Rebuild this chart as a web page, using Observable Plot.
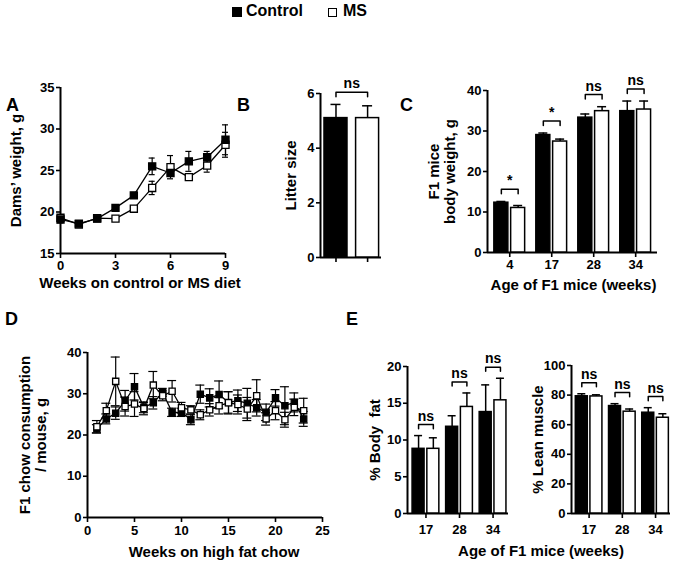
<!DOCTYPE html>
<html>
<head>
<meta charset="utf-8">
<script src="https://cdn.jsdelivr.net/npm/d3@7"></script>
<script src="https://cdn.jsdelivr.net/npm/@observablehq/plot@0.6"></script>
<style>
  html, body { margin: 0; padding: 0; background: #fff; }
  #fig { position: relative; width: 676px; height: 565px; overflow: hidden;
         font-family: "Liberation Sans", Arial, Helvetica, sans-serif; font-weight: bold; color: #000; }
  #fig svg { position: absolute; left: 0; top: 0; }
  .letter { position: absolute; font-size: 18px; line-height: 18px; font-weight: bold; }
  .leg { position: absolute; font-size: 16px; line-height: 16px; font-weight: bold; }
  .sw { position: absolute; box-sizing: border-box; border: 1.5px solid #000; }
</style>
</head>
<body>
<div id="fig">
  <div class="sw" style="left:232px;top:7px;width:10px;height:10px;background:#000;"></div>
  <div class="leg" style="left:246px;top:3px;">Control</div>
  <div class="sw" style="left:328px;top:8px;width:9px;height:9px;background:#fff;"></div>
  <div class="leg" style="left:343px;top:3px;">MS</div>
  <div class="letter" style="left:6px;top:96px;">A</div>
  <div class="letter" style="left:237px;top:96px;">B</div>
  <div class="letter" style="left:400px;top:96px;">C</div>
  <div class="letter" style="left:5px;top:310px;">D</div>
  <div class="letter" style="left:346px;top:310px;">E</div>
</div>
<script>
// ---------------- data ----------------
const seriesNames = ["Control", "MS"];

// A: dams' weight
const weeksA = [0, 1, 2, 3, 4, 5, 6, 7, 8, 9];
const damsControl    = [19.1, 18.6, 19.2, 20.5, 22.0, 25.5, 24.7, 26.1, 26.6, 28.7];
const damsControlSem = [0.4, 0.2, 0.2, 0.3, 0.2, 1.0, 0.4, 1.2, 0.7, 1.8];
const damsMS         = [19.3, 18.5, 19.25, 19.2, 20.4, 22.9, 25.4, 24.2, 25.6, 28.1];
const damsMSSem      = [0.3, 0.2, 0.3, 0.2, 0.2, 0.8, 1.4, 0.3, 0.8, 1.5];

// B: litter size
const litterGroups = ["Control", "MS"];
const litterMean = [5.1, 5.1];
const litterSem  = [0.5, 0.45];
const litterSig  = "ns";

// C: F1 body weight
const agesC = ["4", "17", "28", "34"];
const bwControl    = [12.3, 29.0, 33.3, 34.9];
const bwControlSem = [0.3, 0.5, 0.9, 2.5];
const bwMS         = [11.0, 27.4, 34.9, 35.3];
const bwMSSem      = [0.6, 0.6, 1.1, 2.1];
const bwSig        = ["*", "*", "ns", "ns"];

// D: chow consumption
const weeksD = [1, 2, 3, 4, 5, 6, 7, 8, 9, 10, 11, 12, 13, 14, 15, 16, 17, 18, 19, 20, 21, 22, 23];
const chowControl    = [21.5, 23.9, 25.3, 28.3, 31.7, 26.7, 27.8, 30.3, 25.5, 25.5, 23.7, 29.9, 29.0, 29.8, 27.9, 28.3, 27.7, 26.6, 25.5, 29.0, 27.1, 27.9, 23.9];
const chowControlSem = [1.0, 1.2, 1.5, 2.5, 3.2, 1.3, 1.5, 1.0, 1.0, 1.0, 1.2, 2.2, 2.2, 3.3, 2.6, 2.6, 3.6, 2.0, 2.0, 2.0, 4.6, 2.3, 1.8];
const chowMS         = [22.0, 25.9, 33.0, 26.9, 27.5, 26.4, 32.1, 29.5, 30.6, 26.6, 26.1, 24.9, 26.1, 27.1, 27.8, 27.4, 26.3, 29.5, 23.9, 25.9, 23.7, 26.7, 25.9];
const chowMSSem      = [1.5, 1.8, 5.9, 2.3, 3.0, 1.5, 3.3, 1.2, 2.6, 1.3, 1.0, 1.2, 1.5, 2.0, 2.7, 2.3, 2.8, 3.9, 1.5, 2.2, 1.8, 2.0, 3.0];

// E: body composition
const agesE = ["17", "28", "34"];
const fatControl    = [8.8, 11.8, 13.8];
const fatControlSem = [1.8, 1.5, 3.7];
const fatMS         = [8.8, 14.5, 15.4];
const fatMSSem      = [1.5, 1.9, 3.0];
const fatSig        = ["ns", "ns", "ns"];
const leanControl    = [79.2, 72.6, 68.1];
const leanControlSem = [1.7, 1.6, 3.4];
const leanMS         = [79.1, 68.8, 64.7];
const leanMSSem      = [1.1, 1.8, 2.7];
const leanSig        = ["ns", "ns", "ns"];

// ---------------- helpers ----------------
const W = 676, H = 565;
const FONT = "'Liberation Sans', Arial, Helvetica, sans-serif";
const fig = document.getElementById("fig");
const intFmt = d3.format("d");

function mount(frame, xDomain, yDomain, marks) {
  const [L, T, R, B] = frame;
  const svg = Plot.plot({
    width: W, height: H,
    marginLeft: L, marginTop: T, marginRight: W - R, marginBottom: H - B,
    x: {type: "linear", domain: xDomain},
    y: {type: "linear", domain: yDomain},
    style: {fontFamily: FONT, fontWeight: "bold", fontSize: "13px", color: "#000",
            background: "transparent", overflow: "visible"},
    marks
  });
  fig.appendChild(svg);
}

function axes(xDomain, yDomain, xTicks, yTicks, xFormat, xPad = 3) {
  return [
    Plot.axisY({ticks: yTicks, tickSize: 4, tickPadding: 2, strokeWidth: 1.6, label: null, tickFormat: intFmt}),
    Plot.axisX({ticks: xTicks, tickSize: 5, tickPadding: xPad, strokeWidth: 1.6, label: null, tickFormat: xFormat ?? intFmt}),
    Plot.ruleX([xDomain[0]], {strokeWidth: 2}),
    Plot.ruleY([yDomain[0]], {strokeWidth: 2})
  ];
}

function yLabel(text, dx) {
  return Plot.text([text], {text: d => d, frameAnchor: "left", dx, rotate: -90,
    textAnchor: "middle", lineAnchor: "middle",
    fontSize: 15, fontWeight: "bold", lineHeight: 1.1});
}
function xLabel(text, dy, dx = 0) {
  return Plot.text([text], {text: d => d, frameAnchor: "bottom", dx, dy,
    textAnchor: "middle", lineAnchor: "middle", fontSize: 15, fontWeight: "bold"});
}

function barMarks(rows, yDomain, barW, capW) {
  const marks = [];
  for (const s of [0, 1]) {
    const r = rows.filter(d => d.s === s);
    marks.push(
      Plot.ruleX(r, {x: "x", y1: "v", y2: d => d.v + d.e, strokeWidth: 1.5}),
      Plot.ruleY(r, {y: d => d.v + d.e, x1: d => d.x - capW / 2, x2: d => d.x + capW / 2, strokeWidth: 1.5}),
      Plot.rect(r, {x1: d => d.x - barW / 2, x2: d => d.x + barW / 2, y1: yDomain[0], y2: "v",
        fill: s === 0 ? "black" : "white", stroke: "black", strokeWidth: 1.5})
    );
  }
  return marks;
}

function bracketMarks(list, yDomain) {
  const span = yDomain[1] - yDomain[0];
  const gap = span * 0.075, leg = span * 0.028;
  const pts = list.flatMap((b, k) => {
    const y = b.top + gap;
    return [{k, x: b.x1, y: y - leg}, {k, x: b.x1, y}, {k, x: b.x2, y}, {k, x: b.x2, y: y - leg}];
  });
  return [
    Plot.line(pts, {x: "x", y: "y", z: "k", stroke: "black", strokeWidth: 1.5}),
    Plot.text(list, {x: b => (b.x1 + b.x2) / 2, y: b => b.top + gap, text: "label",
      lineAnchor: "bottom", dy: -4, fontSize: 14, fontWeight: "bold"})
  ];
}

function groupedBarPanel(frame, xDomain, yDomain, groups, ctrl, ctrlSem, ms, msSem, sig, barPx, capPx, offset) {
  const [L, , R] = frame;
  const unit = (R - L) / (xDomain[1] - xDomain[0]);
  const rows = [];
  groups.forEach((g, i) => {
    rows.push({s: 0, x: i - offset, v: ctrl[i], e: ctrlSem[i]});
    rows.push({s: 1, x: i + offset, v: ms[i], e: msSem[i]});
  });
  const brackets = groups.map((g, i) => ({
    x1: i - offset, x2: i + offset,
    top: Math.max(ctrl[i] + ctrlSem[i], ms[i] + msSem[i]), label: sig[i]
  }));
  return [
    ...barMarks(rows, yDomain, barPx / unit, capPx / unit),
    ...bracketMarks(brackets, yDomain)
  ];
}

function seriesMarks(xs, vals, sems, capU) {
  const rows = xs.map((x, i) => ({x, v: vals[i], e: sems[i]}));
  return [
    Plot.line(rows, {x: "x", y: "v", stroke: "black", strokeWidth: 1.3}),
    Plot.ruleX(rows, {x: "x", y1: d => d.v - d.e, y2: d => d.v + d.e, strokeWidth: 1.2}),
    Plot.ruleY(rows, {y: d => d.v + d.e, x1: d => d.x - capU, x2: d => d.x + capU, strokeWidth: 1.2}),
    Plot.ruleY(rows, {y: d => d.v - d.e, x1: d => d.x - capU, x2: d => d.x + capU, strokeWidth: 1.2})
  ];
}
function dotMarks(xs, vals, fill, r) {
  const rows = xs.map((x, i) => ({x, v: vals[i]}));
  return [Plot.dot(rows, {x: "x", y: "v", symbol: "square", r, fill, stroke: "black", strokeWidth: 1.3})];
}

// ---------------- Panel A ----------------
{
  const frame = [60, 87, 225, 253], xD = [0, 9], yD = [15, 35];
  const capU = 3 / ((frame[2] - frame[0]) / (xD[1] - xD[0]));
  mount(frame, xD, yD, [
    ...axes(xD, yD, [0, 3, 6, 9], [15, 20, 25, 30, 35], null, 2),
    ...seriesMarks(weeksA, damsMS, damsMSSem, capU),
    ...seriesMarks(weeksA, damsControl, damsControlSem, capU),
    ...dotMarks(weeksA, damsMS, "white", 4),
    ...dotMarks(weeksA, damsControl, "black", 4),
    yLabel("Dams\u2019 weight, g", -45),
    xLabel("Weeks on control or MS diet", 30, -3)
  ]);
}

// ---------------- Panel B ----------------
{
  const frame = [320, 93, 381, 257], xD = [-0.49, 1.44], yD = [0, 6];
  const unit = (frame[2] - frame[0]) / (xD[1] - xD[0]);
  const rows = litterGroups.map((g, i) => ({s: i, x: i, v: litterMean[i], e: litterSem[i]}));
  const top = Math.max(...litterMean.map((m, i) => m + litterSem[i]));
  mount(frame, xD, yD, [
    ...axes(xD, yD, [0, 1], [0, 2, 4, 6], () => ""),
    ...barMarks(rows, yD, 23 / unit, 10 / unit),
    ...bracketMarks([{x1: 0, x2: 1, top, label: litterSig}], yD),
    yLabel("Litter size", -30)
  ]);
}

// ---------------- Panel C ----------------
{
  const frame = [487, 90, 657, 252], xD = [-0.53, 3.52], yD = [0, 40];
  mount(frame, xD, yD, [
    ...axes(xD, yD, agesC.map((a, i) => i), [0, 10, 20, 30, 40], i => agesC[i], 2),
    ...groupedBarPanel(frame, xD, yD, agesC, bwControl, bwControlSem, bwMS, bwMSSem, bwSig, 14, 9, 0.2),
    yLabel("F1 mice\nbody weight, g", -46),
    xLabel("Age of F1 mice (weeks)", 33, 1)
  ]);
}

// ---------------- Panel D ----------------
{
  const frame = [87, 352, 322, 517], xD = [0, 25], yD = [0, 40];
  const capU = 4.5 / ((frame[2] - frame[0]) / (xD[1] - xD[0]));
  mount(frame, xD, yD, [
    ...axes(xD, yD, [0, 5, 10, 15, 20, 25], [0, 10, 20, 30, 40]),
    ...seriesMarks(weeksD, chowMS, chowMSSem, capU),
    ...seriesMarks(weeksD, chowControl, chowControlSem, capU),
    ...dotMarks(weeksD, chowControl, "black", 3.5),
    ...dotMarks(weeksD, chowMS, "white", 3.5),
    yLabel("F1 chow consumption\n/ mouse, g", -55),
    xLabel("Weeks on high fat chow", 35, 9)
  ]);
}

// ---------------- Panel E (left) ----------------
{
  const frame = [407, 366, 508, 513], xD = [-0.55, 2.46], yD = [0, 20];
  mount(frame, xD, yD, [
    ...axes(xD, yD, agesE.map((a, i) => i), [0, 5, 10, 15, 20], i => agesE[i], 6),
    ...groupedBarPanel(frame, xD, yD, agesE, fatControl, fatControlSem, fatMS, fatMSSem, fatSig, 12, 8, 0.22),
    yLabel("% Body  fat", -33)
  ]);
}

// ---------------- Panel E (right) ----------------
{
  const frame = [571, 365, 670, 513], xD = [-0.53, 2.45], yD = [0, 100];
  mount(frame, xD, yD, [
    ...axes(xD, yD, agesE.map((a, i) => i), [0, 20, 40, 60, 80, 100], i => agesE[i], 6),
    ...groupedBarPanel(frame, xD, yD, agesE, leanControl, leanControlSem, leanMS, leanMSSem, leanSig, 12, 8, 0.22),
    yLabel("% Lean muscle", -34),
    xLabel("Age of F1 mice (weeks)", 38, -80)
  ]);
}
</script>
</body>
</html>
